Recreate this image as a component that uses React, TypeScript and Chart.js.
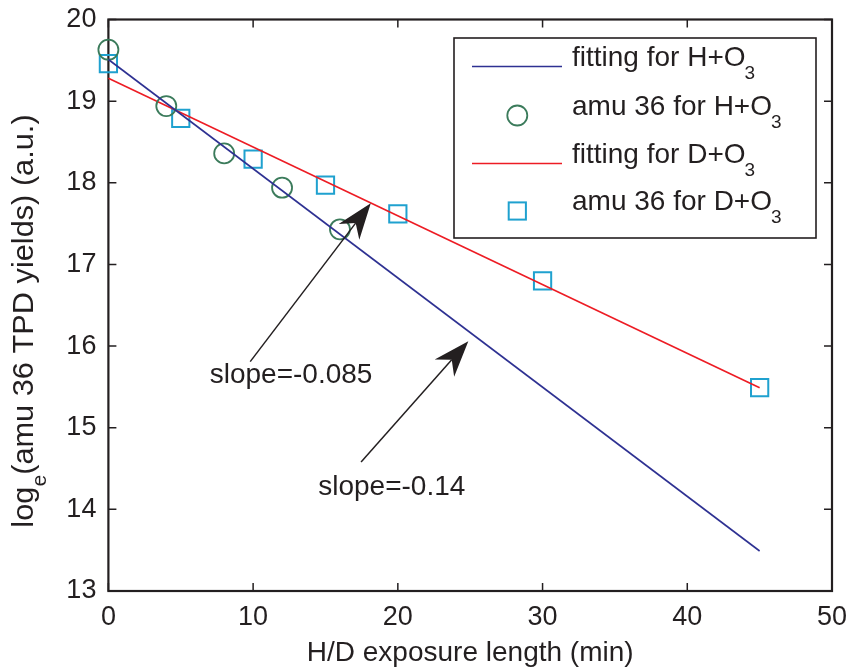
import React, { useEffect, useRef } from "react";
import { Chart, registerables } from "chart.js";

Chart.register(...registerables);

// ---- data ----
const xTicks = [0, 10, 20, 30, 40, 50];
const yTicks = [13, 14, 15, 16, 17, 18, 19, 20];

const hTimes = [0, 4, 8, 12, 16];
const hYields = [19.63, 18.94, 18.36, 17.94, 17.43];

const dTimes = [0, 5, 10, 15, 20, 30, 45];
const dYields = [19.46, 18.79, 18.29, 17.97, 17.62, 16.8, 15.49];

const hFitX = [0, 45];
const hFitY = [19.51, 13.49];
const dFitX = [0, 45];
const dFitY = [19.28, 15.49];

const noteTexts = ["slope=-0.085", "slope=-0.14"];
const noteX = [7.0, 14.5];
const noteY = [15.64, 14.27];
const arrowTailX = [9.8, 17.46];
const arrowTailY = [15.81, 14.58];
const arrowTipX = [18.13, 24.87];
const arrowTipY = [17.75, 16.06];

const legendMain = ["fitting for H+O", "amu 36 for H+O", "fitting for D+O", "amu 36 for D+O"];
const legendSub = ["3", "3", "3", "3"];
const legendKind = ["line", "circle", "line", "square"];

const xTitle = "H/D exposure length (min)";
const yTitleMain = "log";
const yTitleSub = "e";
const yTitleRest = "(amu 36 TPD yields) (a.u.)";

// ---- styles ----
const FONT = "'Liberation Sans', Arial, Helvetica, sans-serif";
const INK = "#231f20";
const NAVY = "#2e3192";
const RED = "#ed1c24";
const GREEN = "#3b7b5b";
const CYAN = "#1fa1cf";

function drawArrow(ctx: CanvasRenderingContext2D, x1: number, y1: number, x2: number, y2: number) {
  const dx = x2 - x1;
  const dy = y2 - y1;
  const L = Math.hypot(dx, dy);
  const ux = dx / L;
  const uy = dy / L;
  const px = -uy;
  const py = ux;
  const hl = 36;
  const hw = 13;
  const notch = 25;
  ctx.beginPath();
  ctx.moveTo(x1, y1);
  ctx.lineTo(x2 - ux * notch, y2 - uy * notch);
  ctx.stroke();
  ctx.beginPath();
  ctx.moveTo(x2, y2);
  ctx.lineTo(x2 - ux * hl + px * hw, y2 - uy * hl + py * hw);
  ctx.lineTo(x2 - ux * notch, y2 - uy * notch);
  ctx.lineTo(x2 - ux * hl - px * hw, y2 - uy * hl - py * hw);
  ctx.closePath();
  ctx.fill();
}

const framePlugin = {
  id: "frame",
  beforeDatasetsDraw(chart: any) {
    const { ctx, chartArea: a, scales } = chart;
    ctx.save();
    ctx.strokeStyle = INK;
    ctx.lineWidth = 1.5;
    ctx.beginPath();
    for (const v of xTicks) {
      const p = scales.x.getPixelForValue(v);
      ctx.moveTo(p, a.bottom);
      ctx.lineTo(p, a.bottom - 8);
      ctx.moveTo(p, a.top);
      ctx.lineTo(p, a.top + 8);
    }
    for (const v of yTicks) {
      const p = scales.y.getPixelForValue(v);
      ctx.moveTo(a.left, p);
      ctx.lineTo(a.left + 8, p);
      ctx.moveTo(a.right, p);
      ctx.lineTo(a.right - 8, p);
    }
    ctx.stroke();
    ctx.lineWidth = 2.2;
    ctx.strokeRect(a.left, a.top, a.right - a.left, a.bottom - a.top);
    ctx.restore();
  },
};

const overlayPlugin = {
  id: "overlay",
  afterDatasetsDraw(chart: any) {
    const { ctx, scales } = chart;
    const sx = scales.x;
    const sy = scales.y;
    ctx.save();
    // annotations
    ctx.fillStyle = INK;
    ctx.strokeStyle = INK;
    ctx.lineWidth = 1.5;
    ctx.font = `28px ${FONT}`;
    ctx.textAlign = "left";
    ctx.textBaseline = "middle";
    for (let i = 0; i < noteTexts.length; i++) {
      ctx.fillText(noteTexts[i], sx.getPixelForValue(noteX[i]), sy.getPixelForValue(noteY[i]));
      drawArrow(
        ctx,
        sx.getPixelForValue(arrowTailX[i]),
        sy.getPixelForValue(arrowTailY[i]),
        sx.getPixelForValue(arrowTipX[i]),
        sy.getPixelForValue(arrowTipY[i])
      );
    }

    // legend
    const bx = 454, by = 38, bw = 362, bh = 200;
    ctx.fillStyle = "#ffffff";
    ctx.fillRect(bx, by, bw, bh);
    ctx.strokeStyle = INK;
    ctx.lineWidth = 1.6;
    ctx.strokeRect(bx, by, bw, bh);
    const rowY = [66.5, 115.5, 163.5, 211];
    for (let i = 0; i < legendMain.length; i++) {
      const cy = rowY[i];
      const kind = legendKind[i];
      if (kind === "line") {
        ctx.strokeStyle = i === 0 ? NAVY : RED;
        ctx.lineWidth = 1.6;
        ctx.beginPath();
        ctx.moveTo(472, cy);
        ctx.lineTo(562, cy);
        ctx.stroke();
      } else if (kind === "circle") {
        ctx.strokeStyle = GREEN;
        ctx.lineWidth = 1.8;
        ctx.beginPath();
        ctx.arc(517.3, cy, 10, 0, Math.PI * 2);
        ctx.stroke();
      } else {
        ctx.strokeStyle = CYAN;
        ctx.lineWidth = 2;
        ctx.strokeRect(517.3 - 8.6, cy - 8.6, 17.2, 17.2);
      }
      ctx.fillStyle = INK;
      ctx.textBaseline = "alphabetic";
      ctx.font = `28px ${FONT}`;
      const base = cy - 1;
      ctx.fillText(legendMain[i], 572, base);
      const w = ctx.measureText(legendMain[i]).width;
      ctx.font = `19px ${FONT}`;
      ctx.fillText(legendSub[i], 572 + w - 1, base + 13);
    }

    ctx.restore();
  },
  afterDraw(chart: any) {
    const { ctx } = chart;
    ctx.save();
    ctx.fillStyle = INK;
    ctx.translate(32.5, 321);
    ctx.rotate(-Math.PI / 2);
    ctx.scale(1.06, 1);
    ctx.textBaseline = "alphabetic";
    ctx.textAlign = "left";
    ctx.font = `29px ${FONT}`;
    const w1 = ctx.measureText(yTitleMain).width;
    const w3 = ctx.measureText(yTitleRest).width;
    ctx.font = `20px ${FONT}`;
    const w2 = ctx.measureText(yTitleSub).width;
    let x = -(w1 + w2 + w3) / 2;
    ctx.font = `29px ${FONT}`;
    ctx.fillText(yTitleMain, x, 0);
    x += w1;
    ctx.font = `20px ${FONT}`;
    ctx.fillText(yTitleSub, x, 13.5);
    x += w2;
    ctx.font = `29px ${FONT}`;
    ctx.fillText(yTitleRest, x, 0);
    ctx.restore();
  },
};

export default function App() {
  const ref = useRef<HTMLCanvasElement | null>(null);

  useEffect(() => {
    if (!ref.current) return;
    const chart = new Chart(ref.current, {
      type: "scatter",
      data: {
        datasets: [
          {
            label: "fitting for H+O3",
            data: hFitX.map((x, i) => ({ x, y: hFitY[i] })),
            showLine: true,
            borderColor: NAVY,
            borderWidth: 1.6,
            pointRadius: 0,
            clip: false,
          },
          {
            label: "amu 36 for H+O3",
            data: hTimes.map((x, i) => ({ x, y: hYields[i] })),
            showLine: false,
            pointStyle: "circle",
            pointRadius: 10,
            pointBorderWidth: 1.8,
            pointBorderColor: GREEN,
            pointBackgroundColor: "rgba(0,0,0,0)",
            borderColor: GREEN,
            backgroundColor: "rgba(0,0,0,0)",
            clip: false,
          },
          {
            label: "fitting for D+O3",
            data: dFitX.map((x, i) => ({ x, y: dFitY[i] })),
            showLine: true,
            borderColor: RED,
            borderWidth: 1.6,
            pointRadius: 0,
            clip: false,
          },
          {
            label: "amu 36 for D+O3",
            data: dTimes.map((x, i) => ({ x, y: dYields[i] })),
            showLine: false,
            pointStyle: "rect",
            pointRadius: 12.2,
            pointBorderWidth: 2,
            pointBorderColor: CYAN,
            pointBackgroundColor: "rgba(0,0,0,0)",
            borderColor: CYAN,
            backgroundColor: "rgba(0,0,0,0)",
            clip: false,
          },
        ],
      },
      options: {
        responsive: false,
        animation: false,
        devicePixelRatio: 1,
        layout: { padding: { left: 0, right: 17, top: 19.5, bottom: 0 } },
        plugins: {
          legend: { display: false },
          tooltip: { enabled: false },
        },
        scales: {
          x: {
            type: "linear",
            min: 0,
            max: 50,
            afterFit: (s: any) => {
              s.height = 77;
              s.paddingLeft = 0;
              s.paddingRight = 0;
            },
            ticks: {
              stepSize: 10,
              autoSkip: false,
              maxRotation: 0,
              padding: 10,
              color: INK,
              font: { size: 27, family: FONT },
            },
            grid: { display: false, drawTicks: false },
            border: { display: false },
            title: {
              display: true,
              text: xTitle,
              color: INK,
              font: { size: 28, family: FONT, lineHeight: 1.0 },
              padding: { top: 0, bottom: 1 },
            },
          },
          y: {
            type: "linear",
            min: 13,
            max: 20,
            afterFit: (s: any) => {
              s.width = 108.4;
              s.paddingTop = 0;
              s.paddingBottom = 0;
            },
            ticks: {
              stepSize: 1,
              autoSkip: false,
              padding: 12,
              color: INK,
              font: { size: 27, family: FONT },
            },
            grid: { display: false, drawTicks: false },
            border: { display: false },
          },
        },
      },
      plugins: [framePlugin, overlayPlugin],
    } as any);
    return () => chart.destroy();
  }, []);

  return (
    <div style={{ position: "absolute", left: 0, top: 0, width: 849, height: 668, background: "#fff" }}>
      <canvas ref={ref} width={849} height={668} />
    </div>
  );
}
